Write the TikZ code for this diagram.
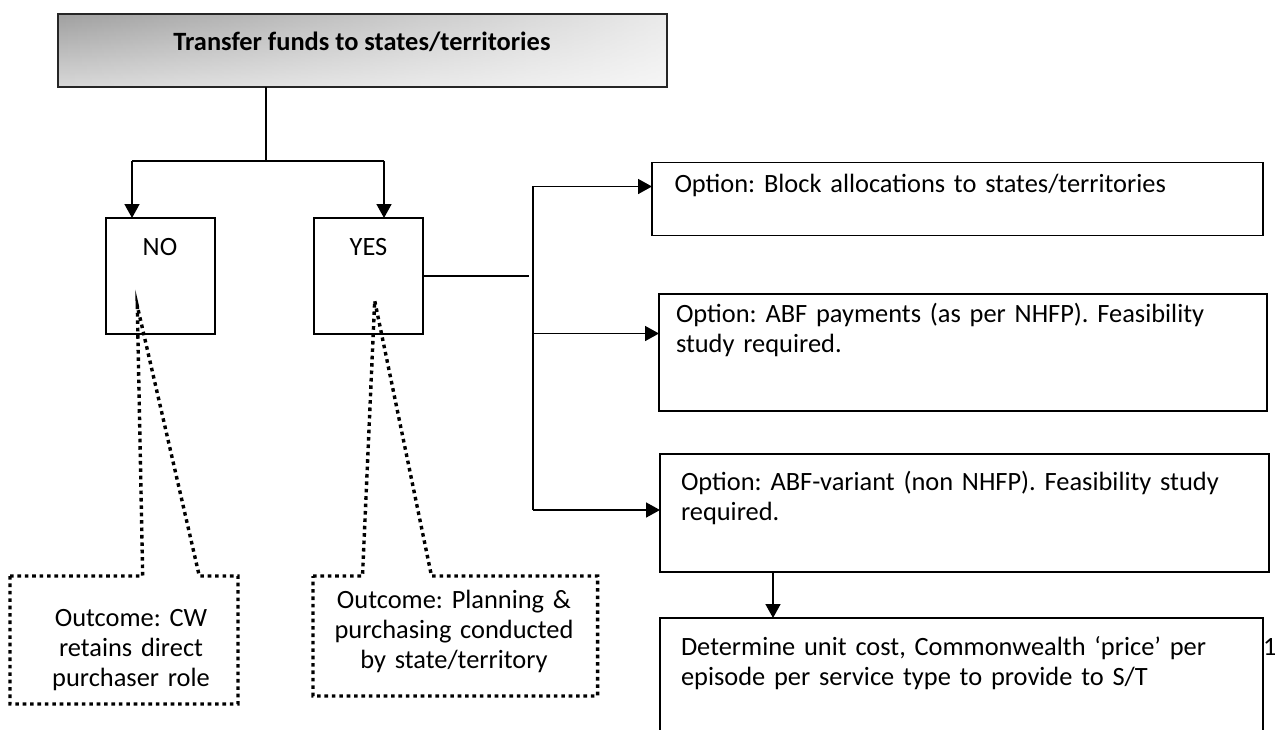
\documentclass[tikz,border=0pt]{standalone}
\usepackage{fontspec}
\setmainfont{Carlito}
\usetikzlibrary{arrows.meta,calc,fadings}
\definecolor{headtop}{HTML}{A0A0A0}
\definecolor{headbot}{HTML}{D8D8D8}
\begin{document}
\begin{tikzpicture}[x=0.5pt,y=-0.5pt,
  every node/.style={inner sep=0pt, outer sep=0pt},
  box/.style={draw, line width=0.85pt},
  link/.style={line width=0.8pt},
  arr/.style={link, -{Triangle[length=7pt,width=7.5pt]}},
  callout/.style={draw, line width=1.7pt, dash pattern=on 1.8pt off 1.9pt, line join=miter},
  lbl/.style={font=\fontsize{13.2}{15}\selectfont\frenchspacing},
  txt/.style={lbl, align=left, text width=300pt},
  ctxt/.style={lbl, align=center, text width=140pt},
]
\useasboundingbox (0,0) rectangle (1275,729);
\clip (0,0) rectangle (1275,729);

% heading box: grey fill darkest at the top left, lightening towards the bottom right
\node[minimum width=304.5pt, minimum height=36.5pt, top color=headtop, bottom color=headbot] (top) at (362.5,50.5) {};
\fill[white, opacity=0.78, path fading=west] (top.south west) rectangle (top.north east);
\draw[line width=0.85pt, draw=black!85] (top.south west) rectangle (top.north east);
\node[lbl, font=\fontsize{13.2}{15}\selectfont\bfseries, anchor=base] (toptxt) at (362,50.7)
  {Transfer funds to states/territories};

% decision boxes
\node[box, minimum width=54.5pt, minimum height=58pt] (no) at (160.5,276) {};
\node[lbl, anchor=base] (notxt) at (160,255) {NO};
\node[box, minimum width=54.5pt, minimum height=58pt] (yes) at (368.5,276) {};
\node[lbl, anchor=base] (yestxt) at (368.5,255) {YES};

% option boxes
\node[box, minimum width=305.5pt, minimum height=36.5pt] (b1) at (957.5,199) {};
\node[box, minimum width=304pt, minimum height=58.5pt] (b2) at (963,352.5) {};
\node[box, minimum width=304.5pt, minimum height=59pt] (b3) at (964.5,513) {};
\node[box, minimum width=301.5pt, minimum height=71pt] (b4) at (961.5,689) {};

\node[txt, anchor=base west] (b1txt) at (674.5,192) {Option: Block allocations to states/territories};
\node[txt, anchor=base west] (b2txt) at (676,322) {Option: ABF payments (as per NHFP). Feasibility\\study required.};
\node[txt, anchor=base west] (b3txt) at (681,490) {Option: ABF-variant (non NHFP). Feasibility study\\required.};
\node[txt, anchor=base west] (b4txt) at (681,655) {Determine unit cost, Commonwealth `price' per\\episode per service type to provide to S/T};
\node[lbl, anchor=base west] (pagenum) at (1263,655) {1};

% connectors from the heading to NO and YES
\coordinate (split) at (266,160.7);
\coordinate (noin) at ($(no.north)+(-28.5,0)$);
\coordinate (yesin) at ($(yes.north)+(15.5,0)$);
\draw[link] (split |- top.south) -- (split);
\draw[link] (noin |- split) -- (yesin |- split);
\draw[arr] (noin |- split) -- (noin);
\draw[arr] (yesin |- split) -- (yesin);

% from YES to the options
\coordinate (yesend) at (529,276);
\draw[link] (yes.east) -- (yesend);
\coordinate (bustop) at (533,186.5);
\coordinate (busbot) at (533,510);
\coordinate (busmid) at (533,333.5);
\draw[arr] (busbot) |- ($(b1.west)+(0,-12.5)$);
\draw[arr] (busmid) -- ($(b2.west)+(0,-19)$);
\draw[arr] (busbot) -- ($(b3.west)+(0,-3)$);
\draw[arr] ($(b3.south west)+(113,0)$) -- ($(b4.north west)+(113,0)$);

% outcome callouts
\draw[callout] (10,576) -- (142.7,576) -- (137.3,306) -- (199.3,576) -- (238,576)
  -- (238,704) -- (10,704) -- cycle;
\node[ctxt, anchor=base] (notc) at (131,626.5) {Outcome: CW\\retains direct\\purchaser role};

\draw[callout] (313,576) -- (362.5,576) -- (374.7,300.7) -- (431.5,576) -- (597.6,576)
  -- (597.6,696) -- (313,696) -- cycle;
\node[ctxt, anchor=base] (yesc) at (454,608) {Outcome: Planning \&\\purchasing conducted\\by state/territory};
\end{tikzpicture}
\end{document}
